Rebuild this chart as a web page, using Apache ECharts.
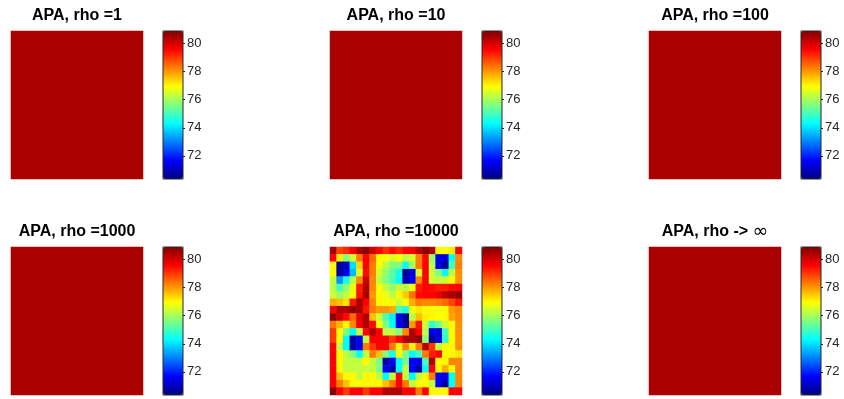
<!DOCTYPE html>
<html><head><meta charset="utf-8">
<script src="https://cdn.jsdelivr.net/npm/echarts@6/dist/echarts.min.js"></script>
<style>html,body{margin:0;padding:0;background:#fff}#c{width:844px;height:399px}</style>
</head><body><div id="c"></div>
<script>
// ---- data ----
const panelTitles = ['APA, rho =1', 'APA, rho =10', 'APA, rho =100', 'APA, rho =1000', 'APA, rho =10000', 'APA, rho -> \u221e'];
const colorbarTicks = [72, 74, 76, 78, 80];
const colorMin = 70.35;
const colorMax = 80.9;
const rho1 = [[80.45]];
const rho10 = [[80.45]];
const rho100 = [[80.45]];
const rho1000 = [[80.45]];
const rhoInf = [[80.45]];
const rho10000 = [
  [80.5,78.9,79.2,79.7,80.4,80.8,80.1,79.6,79.1,79.5,79.2,79.6,79.7,80.3,80.8,80.4,77.0,76.9,77.1,79.6],
  [79.6,77.1,75.7,76.5,78.3,79.6,78.5,77.0,76.9,76.5,76.9,76.3,76.5,78.3,79.5,75.9,71.4,71.3,74.4,78.2],
  [77.0,70.6,71.1,74.0,77.4,79.6,78.3,76.9,76.2,75.6,75.6,74.4,76.0,78.3,79.6,76.2,71.5,70.6,75.0,78.3],
  [77.0,70.7,71.5,73.6,76.6,79.5,78.3,76.5,75.8,75.2,74.5,70.6,71.4,76.6,79.6,76.4,75.6,74.3,76.3,78.1],
  [76.3,73.2,74.5,76.2,78.2,80.1,78.2,76.3,75.6,75.1,74.3,70.8,71.6,78.2,79.6,76.4,76.3,76.4,77.0,78.1],
  [76.2,75.0,75.8,76.8,79.3,80.4,78.2,77.0,76.3,75.8,76.4,76.2,76.8,79.3,79.6,79.5,79.3,79.3,79.5,79.6],
  [76.4,75.9,76.3,76.9,79.4,80.5,78.0,77.0,76.8,76.2,77.0,77.5,78.4,79.5,79.6,79.6,79.8,80.3,80.5,80.7],
  [77.8,77.6,77.2,79.4,80.5,79.6,78.2,77.0,76.9,77.0,76.3,76.9,77.8,78.3,78.2,78.2,78.3,78.5,78.9,79.4],
  [79.6,80.4,80.4,80.7,80.5,79.4,78.3,78.0,78.0,77.8,75.1,74.6,76.9,77.2,77.0,77.0,76.8,77.0,78.0,78.2],
  [80.8,80.1,79.5,78.5,79.8,80.4,77.6,76.4,75.1,74.2,71.4,70.6,76.2,77.6,77.1,77.0,76.9,77.0,77.9,78.2],
  [78.4,77.7,77.0,78.2,79.7,80.4,79.5,77.0,75.6,74.3,71.5,70.7,78.0,79.4,76.4,74.8,75.5,76.4,77.0,78.1],
  [79.0,77.0,75.6,74.3,76.3,79.6,80.4,79.6,76.3,76.3,75.7,78.2,80.4,79.6,76.2,71.4,71.3,75.0,77.0,78.1],
  [79.0,77.0,74.3,70.7,71.6,76.3,79.6,79.6,79.6,79.0,79.6,80.4,80.5,80.8,75.8,70.6,71.4,74.8,77.0,78.1],
  [79.6,76.3,74.3,70.7,71.5,78.3,79.0,79.6,79.6,78.3,77.0,78.2,77.1,78.3,80.3,79.0,76.3,77.0,77.0,78.1],
  [79.6,77.0,76.3,75.6,74.3,76.3,78.3,77.6,75.6,74.5,77.0,75.6,74.3,75.0,78.3,79.3,79.6,77.0,77.0,77.2],
  [79.6,77.0,76.3,76.3,76.3,77.0,76.3,75.6,70.7,71.6,74.3,75.6,71.6,71.5,75.0,80.4,77.0,77.0,78.2,78.2],
  [79.6,77.0,76.3,76.3,76.3,76.3,76.3,75.6,71.6,70.7,74.3,76.3,71.6,70.7,74.3,79.6,77.0,77.8,77.0,78.2],
  [79.6,77.6,77.0,77.0,76.3,77.0,77.0,76.3,74.3,76.3,79.6,76.3,74.3,76.3,77.0,78.3,71.6,71.5,74.3,78.2],
  [79.6,78.3,77.6,77.0,77.0,77.0,77.0,77.0,77.6,78.3,79.6,78.3,76.3,77.0,77.0,76.3,71.6,70.7,74.3,78.2],
  [80.8,79.6,79.0,79.6,79.6,79.0,79.6,79.6,80.4,80.4,80.4,79.6,79.6,78.3,79.6,77.0,77.0,77.0,79.6,79.6]
];
const panels = [rho1, rho10, rho100, rho1000, rho10000, rhoInf];
const jetColors = ['#000080','#0000ff','#0080ff','#00ffff','#80ff80','#ffff00','#ff8000','#ff0000','#800000'];

// ---- layout ----
const L = { x0: 11, dx: 319, y0: 31, dy: 216, w: 132, h: 148, cbX: 163, cbW: 20 };

const grid = [], xAxis = [], yAxis = [], series = [], visualMap = [], graphic = [];
panels.forEach((m, i) => {
  const c = i % 3, r = Math.floor(i / 3);
  const left = L.x0 + c * L.dx, top = L.y0 + r * L.dy;
  const rows = m.length, cols = m[0].length;
  grid.push({ left: left, top: top, width: L.w, height: L.h, containLabel: false });
  const gi = grid.length - 1;
  xAxis.push({ type: 'category', gridIndex: gi, data: Array.from({length: cols}, (_, k) => k), show: false, boundaryGap: true });
  yAxis.push({ type: 'category', gridIndex: gi, data: Array.from({length: rows}, (_, k) => k), show: false, inverse: true, boundaryGap: true });
  const data = [];
  m.forEach((row, y) => row.forEach((v, x) => data.push([x, y, v])));
  series.push({ type: 'heatmap', xAxisIndex: xAxis.length - 1, yAxisIndex: yAxis.length - 1, data: data,
    itemStyle: { borderWidth: 0 }, emphasis: { disabled: true }, progressive: 0, animation: false });
  const si = series.length - 1;
  const cbLeft = left + (L.cbX - L.x0);
  visualMap.push({ type: 'continuous', min: colorMin, max: colorMax, seriesIndex: si, calculable: false,
    orient: 'vertical', left: cbLeft, top: top, itemWidth: L.cbW, itemHeight: L.h,
    padding: 0, showLabel: false, text: null, hoverLink: false, z: 1, inRange: { color: jetColors } });
  grid.push({ left: cbLeft, top: top, width: L.cbW, height: L.h, show: true,
    borderColor: '#262626', borderWidth: 1, backgroundColor: 'transparent', z: 3 });
  const cg = grid.length - 1;
  xAxis.push({ type: 'value', gridIndex: cg, show: false, min: 0, max: 1 });
  yAxis.push({ type: 'value', gridIndex: cg, position: 'right', min: colorMin, max: colorMax, z: 3,
    axisLine: { show: false, onZero: false }, splitLine: { show: false },
    axisTick: { show: true, inside: false, length: 2, lineStyle: { color: '#262626', width: 1 }, customValues: colorbarTicks },
    axisLabel: { show: true, margin: 4, color: '#262626', fontSize: 13, fontFamily: 'Liberation Sans, Arial, sans-serif', customValues: colorbarTicks } });
  const t = panelTitles[i];
  const isInf = t.indexOf('\u221e') >= 0;
  graphic.push({ type: 'text', x: left + L.w / 2, y: top - 15, silent: true,
    style: isInf ? {
      text: '{a|' + t.replace('\u221e', '') + '}{b|\u221e}',
      align: 'center', verticalAlign: 'middle',
      rich: { a: { fontFamily: 'Liberation Sans, Arial, sans-serif', fontWeight: 'bold', fontSize: 16, fill: '#000', color: '#000' },
              b: { fontFamily: 'DejaVu Sans, sans-serif', fontWeight: 'normal', fontSize: 19, fill: '#000', color: '#000' } }
    } : {
      text: t, align: 'center', verticalAlign: 'middle',
      font: 'bold 16px "Liberation Sans", Arial, sans-serif', fill: '#000'
    } });
});

const chart = echarts.init(document.getElementById('c'), null, { renderer: 'canvas' });
chart.setOption({ animation: false, backgroundColor: '#fff', grid, xAxis, yAxis, series, visualMap, graphic });
</script></body></html>
